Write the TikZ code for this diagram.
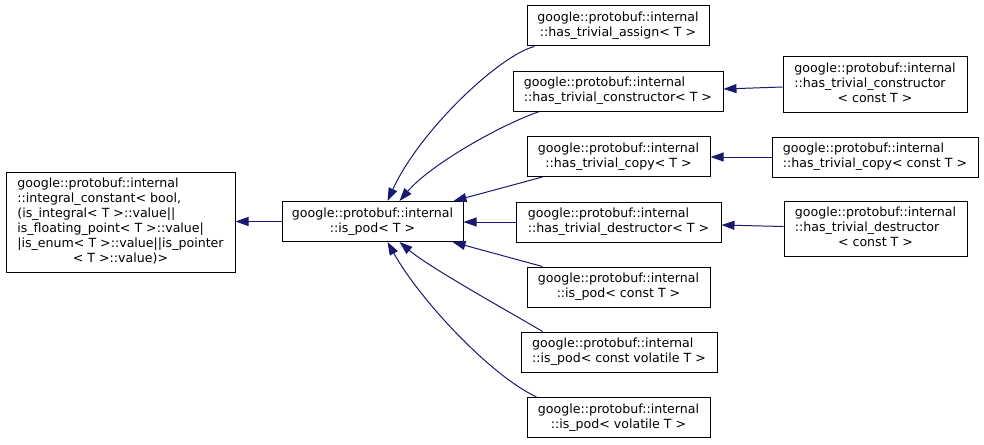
\documentclass[tikz,border=0pt]{standalone}
\usepackage{fontspec}
\setmainfont{DejaVu Sans}
\usetikzlibrary{arrows.meta,calc}
\definecolor{edgeblue}{HTML}{191970}
\newcommand\lbl[2]{\begin{tabular}{@{}l@{}}#1\\\multicolumn{1}{@{}c@{}}{#2}\end{tabular}}
\begin{document}
\begin{tikzpicture}[x=1pt,y=-1pt,
  cls/.style={draw=black,line width=1pt,fill=white,inner sep=0pt,align=center,
    font=\fontsize{12.6}{15}\selectfont},
  edge/.style={draw=edgeblue,line width=1pt,-{Triangle[length=13pt,width=9pt]}}]
\useasboundingbox[fill=white] (0,0) rectangle (984,444);
\node[cls,minimum width=229pt,minimum height=100pt] (L) at (120.5,222) {\lbl{google::protobuf::internal\\::integral\_constant< bool,\\(is\_integral< T >::value||\\is\_floating\_point< T >::value|\\|is\_enum< T >::value||is\_pointer}{< T >::value)>}};
\node[cls,minimum width=181pt,minimum height=40pt] (P) at (372.5,221.5) {\lbl{google::protobuf::internal}{::is\_pod< T >}};
\node[cls,minimum width=182pt,minimum height=40pt] (A) at (618,26) {\lbl{google::protobuf::internal}{::has\_trivial\_assign< T >}};
\node[cls,minimum width=210pt,minimum height=40pt] (C) at (618,91) {\lbl{google::protobuf::internal}{::has\_trivial\_constructor< T >}};
\node[cls,minimum width=184pt,minimum height=55pt] (CC) at (875,84.5) {\lbl{google::protobuf::internal\\::has\_trivial\_constructor}{< const T >}};
\node[cls,minimum width=183pt,minimum height=40pt] (Cp) at (618.5,156.5) {\lbl{google::protobuf::internal}{::has\_trivial\_copy< T >}};
\node[cls,minimum width=206pt,minimum height=40pt] (CpC) at (875,157) {\lbl{google::protobuf::internal}{::has\_trivial\_copy< const T >}};
\node[cls,minimum width=205pt,minimum height=40pt] (D) at (618.5,222) {\lbl{google::protobuf::internal}{::has\_trivial\_destructor< T >}};
\node[cls,minimum width=183pt,minimum height=55pt] (DC) at (875.5,228.5) {\lbl{google::protobuf::internal\\::has\_trivial\_destructor}{< const T >}};
\node[cls,minimum width=183pt,minimum height=40pt] (PC) at (618.5,287) {\lbl{google::protobuf::internal}{::is\_pod< const T >}};
\node[cls,minimum width=196pt,minimum height=40pt] (PCV) at (619,352) {\lbl{google::protobuf::internal}{::is\_pod< const volatile T >}};
\node[cls,minimum width=183pt,minimum height=40pt] (PV) at (618.5,417.5) {\lbl{google::protobuf::internal}{::is\_pod< volatile T >}};
% edges
\draw[edge] (P.west) -- (P.west -| L.east);
\draw[edge] (D.west) -- (D.west -| P.east);
\draw[edge] ([xshift=8pt]A.south west) .. controls (500,55) and (420,130) .. ([xshift=106pt]P.north west);
\draw[edge] ([xshift=27pt]C.south west) .. controls (500,125) and (430,165) .. ([xshift=118pt]P.north west);
\draw[edge] ([xshift=16pt]Cp.south west) -- ([xshift=-10pt]P.north east);
\draw[edge] ([xshift=16pt]PC.north west) -- ([xshift=-11pt]P.south east);
\draw[edge] ([xshift=22pt]PCV.north west) .. controls (515,315) and (430,268) .. ([xshift=118pt]P.south west);
\draw[edge] ([xshift=10pt]PV.north west) .. controls (490,375) and (420,300) .. ([xshift=106pt]P.south west);
\draw[edge] ($(CC.west)+(0,2.5)$) -- ($(C.east)+(0,-2)$);
\draw[edge] (CpC.west) -- (CpC.west -| Cp.east);
\draw[edge] ($(DC.west)+(0,-2)$) -- ($(D.east)+(0,3)$);
\end{tikzpicture}
\end{document}
